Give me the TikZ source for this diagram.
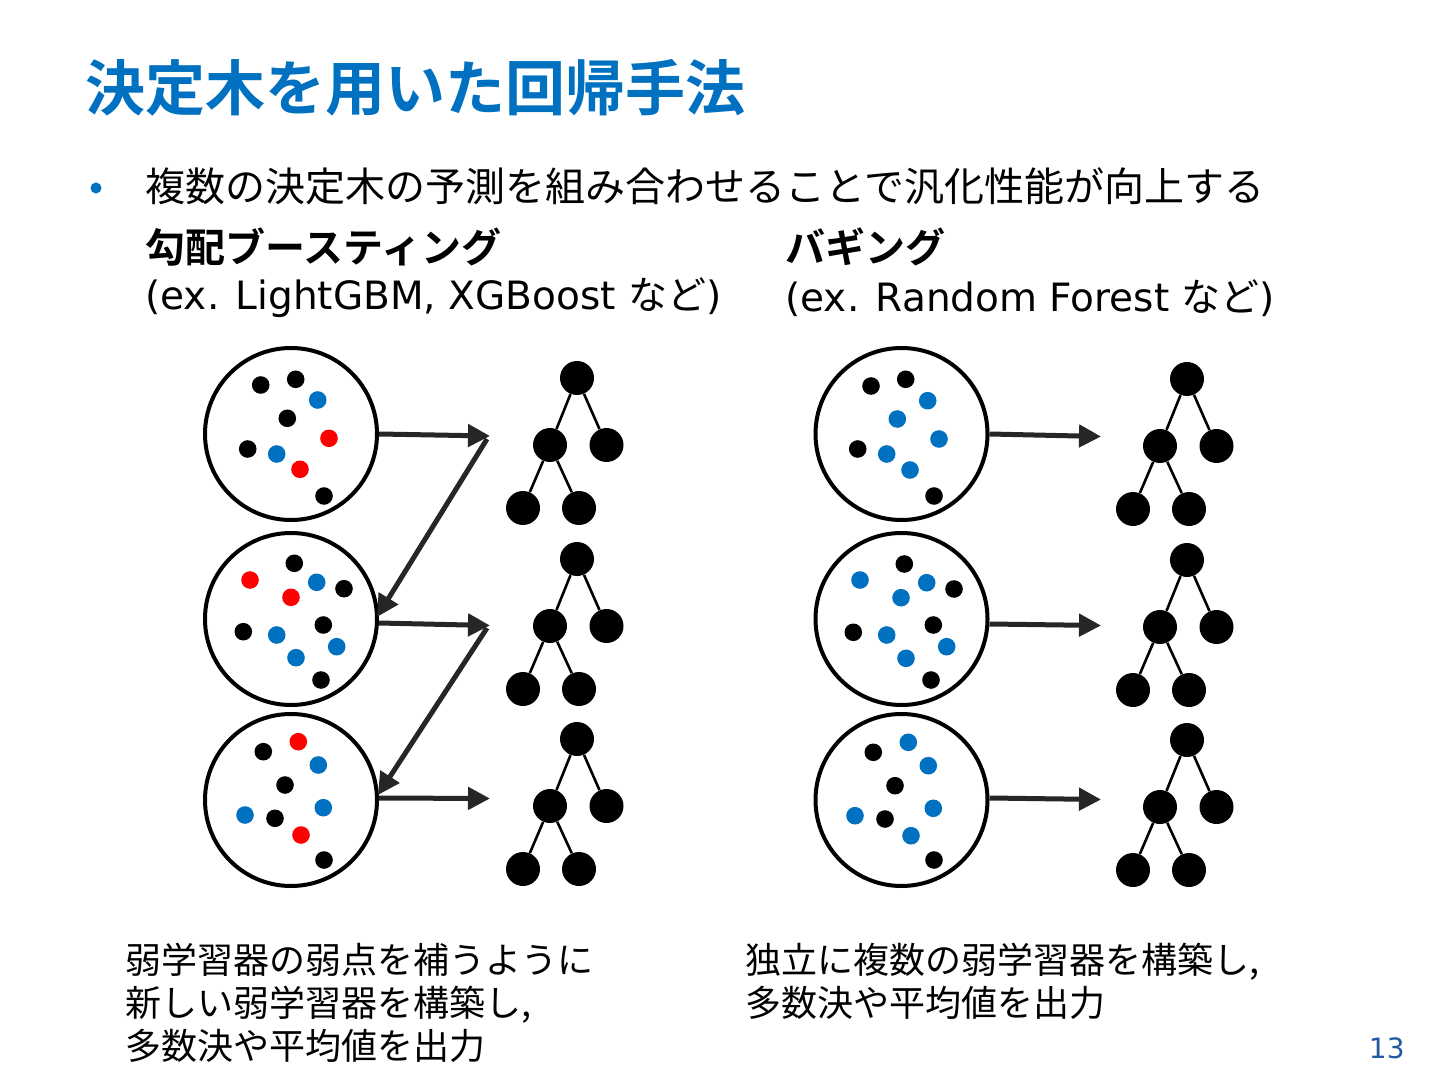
\documentclass[tikz,border=0pt]{standalone}
\usepackage{fontspec}
\setmainfont{DejaVu Sans}
\newfontfamily\cjk{Noto Sans CJK JP}[BoldFont={Noto Sans CJK JP Bold}]
\usetikzlibrary{arrows.meta}
\definecolor{mblue}{RGB}{0,112,192}
\definecolor{mred}{RGB}{255,0,0}
\definecolor{arr}{RGB}{38,38,38}
\definecolor{pgblue}{RGB}{31,90,160}
\tikzset{
  samp/.style={circle,draw=black,line width=2pt,minimum size=86pt,inner sep=0pt,fill=white},
  bd/.style={circle,fill=black,minimum size=8.8pt,inner sep=0pt},
  ud/.style={circle,fill=mblue,minimum size=8.8pt,inner sep=0pt},
  rd/.style={circle,fill=mred,minimum size=8.8pt,inner sep=0pt},
  tn/.style={circle,fill=black,minimum size=17pt,inner sep=0pt},
  te/.style={line width=1.3pt},
  flow/.style={draw=arr,line width=2.5pt,-{Triangle[length=11pt,width=11pt]}},
  txt/.style={inner sep=0pt,anchor=west},
  bottomtxt/.style={inner sep=0pt,anchor=north west,align=left,font={\fontsize{18pt}{21.5pt}\selectfont\cjk}},
}
\begin{document}
\begin{tikzpicture}[x=0.5pt,y=-0.5pt]
\useasboundingbox[fill=white] (0,0) rectangle (1440,1080);
% title
\node[txt,text=mblue] (title) at (85,88) {\fontsize{30pt}{36pt}\selectfont\cjk\bfseries 決定木を用いた回帰手法};
\node[circle,fill=mblue,minimum size=5.5pt,inner sep=0pt] (bul) at (96,188) {};
\node[txt] (l1) at (145,186) {\fontsize{20pt}{24pt}\selectfont\cjk 複数の決定木の予測を組み合わせることで汎化性能が向上する};
\node[txt] (h1) at (145,247) {\fontsize{20pt}{24pt}\selectfont\cjk\bfseries 勾配ブースティング};
\node[txt] (e1) at (145,298) {\fontsize{19.5pt}{24pt}\selectfont (ex. LightGBM, XGBoost {\cjk など})};
\node[txt] (h2) at (785,247) {\fontsize{20pt}{24pt}\selectfont\cjk\bfseries バギング};
\node[txt] (e2) at (785,298) {\fontsize{19.5pt}{24pt}\selectfont (ex. Random Forest {\cjk など})};
\node[bottomtxt] (b1) at (125,943) {弱学習器の弱点を補うように\\新しい弱学習器を構築し,\\多数決や平均値を出力};
\node[bottomtxt] (b2) at (745,943) {独立に複数の弱学習器を構築し,\\多数決や平均値を出力};
\node[inner sep=0pt,anchor=east,text=pgblue] (pg) at (1405,1048) {\fontsize{14pt}{16pt}\selectfont 13};

% ---------- left: boosting ----------
\node[samp] (c1) at (291,434) {};
\node[samp] (c2) at (291,619) {};
\node[samp] (c3) at (291,800) {};
% dots c1
\node[bd] (p11) at (260.7,385) {};
\node[bd] (p12) at (295.7,379.3) {};
\node[ud] (p13) at (317.7,400) {};
\node[bd] (p14) at (287.3,418.3) {};
\node[rd] (p15) at (329,438.3) {};
\node[bd] (p16) at (247.7,449) {};
\node[ud] (p17) at (276.7,454) {};
\node[rd] (p18) at (300,469.3) {};
\node[bd] (p19) at (324,496) {};
% dots c2
\node[bd] (p21) at (294.3,563.3) {};
\node[rd] (p22) at (250,580) {};
\node[ud] (p23) at (316.7,582.3) {};
\node[bd] (p24) at (344,588.7) {};
\node[rd] (p25) at (291,597.3) {};
\node[bd] (p26) at (243.3,631.7) {};
\node[ud] (p27) at (276.7,635) {};
\node[bd] (p28) at (323.3,625) {};
\node[ud] (p29) at (336.7,646.7) {};
\node[ud] (p2a) at (296,657.7) {};
\node[bd] (p2b) at (321,680) {};
% dots c3
\node[rd] (p31) at (298.3,741.7) {};
\node[bd] (p32) at (263.3,751.7) {};
\node[ud] (p33) at (318.3,765) {};
\node[bd] (p34) at (285,785) {};
\node[ud] (p35) at (323.3,807.7) {};
\node[ud] (p36) at (245,815) {};
\node[bd] (p37) at (275,818.3) {};
\node[rd] (p38) at (301,835) {};
\node[bd] (p39) at (324,860) {};

\coordinate (a1) at (490,436);
\coordinate (a2) at (490,625.5);
\coordinate (a3) at (490,798.5);
\coordinate (d1) at (487,439);
\coordinate (d2) at (487,628);
\coordinate (k2) at (377,617);
\coordinate (k3) at (378,795);
\draw[flow] (c1.east) -- (a1);
\draw[flow] (d1) -- (k2);
\draw[flow] ([yshift=-2pt]c2.east) -- (a2);
\draw[flow] (d2) -- (k3);
\draw[flow] ([yshift=1pt]c3.east) -- (a3);

% ---------- right: bagging ----------
\node[samp] (c4) at (901.5,434) {};
\node[samp] (c5) at (901.5,619) {};
\node[samp] (c6) at (901.5,800) {};
% dots c4
\node[bd] (q11) at (871,386) {};
\node[bd] (q12) at (905.7,379.3) {};
\node[ud] (q13) at (927.7,400.7) {};
\node[ud] (q14) at (897.3,419) {};
\node[ud] (q15) at (939,439) {};
\node[bd] (q16) at (857.7,449) {};
\node[ud] (q17) at (886.7,454) {};
\node[ud] (q18) at (910,470) {};
\node[bd] (q19) at (934,496) {};
% dots c5
\node[bd] (q21) at (904.3,564) {};
\node[ud] (q22) at (860,580) {};
\node[ud] (q23) at (926.7,582.7) {};
\node[bd] (q24) at (954,589) {};
\node[ud] (q25) at (901,597.7) {};
\node[bd] (q26) at (853.3,632.3) {};
\node[ud] (q27) at (886.7,635) {};
\node[bd] (q28) at (933.3,625) {};
\node[ud] (q29) at (946.7,646.7) {};
\node[ud] (q2a) at (906,658.3) {};
\node[bd] (q2b) at (931,680) {};
% dots c6
\node[ud] (q31) at (908.3,742.3) {};
\node[bd] (q32) at (873.3,752.3) {};
\node[ud] (q33) at (928.3,765.7) {};
\node[bd] (q34) at (895,785.7) {};
\node[ud] (q35) at (933.3,808.3) {};
\node[ud] (q36) at (855,815.7) {};
\node[bd] (q37) at (885,819) {};
\node[ud] (q38) at (911,835.7) {};
\node[bd] (q39) at (934,860) {};

\coordinate (b4) at (1101,436.5);
\coordinate (b5) at (1101,625.5);
\coordinate (b6) at (1101,799.5);
\draw[flow] (c4.east) -- (b4);
\draw[flow] ([yshift=-2.5pt]c5.east) -- (b5);
\draw[flow] ([yshift=1pt]c6.east) -- (b6);

% ---------- trees ----------
\foreach \nm/\x/\y in {t1/577/378, t2/577/559, t3/577/739, t4/1187/379, t5/1187/560, t6/1187/740}{
  \node[tn] (\nm r) at (\x,\y) {};
  \node[tn] (\nm a) at (\x-27,\y+67) {};
  \node[tn] (\nm b) at (\x+29.5,\y+67) {};
  \node[tn] (\nm c) at (\x-54,\y+130) {};
  \node[tn] (\nm d) at (\x+2,\y+130) {};
  \draw[te] (\nm r) -- (\nm a);
  \draw[te] (\nm r) -- (\nm b);
  \draw[te] (\nm a) -- (\nm c);
  \draw[te] (\nm a) -- (\nm d);
}
\end{tikzpicture}
\end{document}
